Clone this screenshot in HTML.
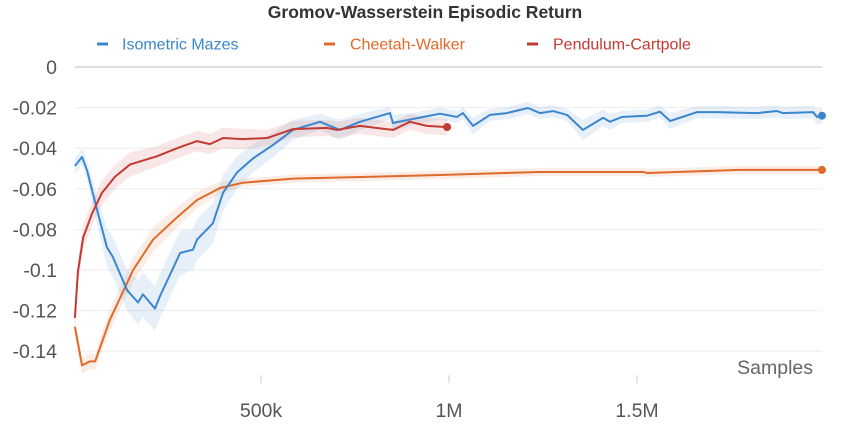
<!DOCTYPE html>
<html><head><meta charset="utf-8"><style>
body{margin:0;background:#fff;}
svg text{font-family:"Liberation Sans",sans-serif;}
</style></head><body>
<svg id="chart" width="850" height="425" xmlns="http://www.w3.org/2000/svg">
<text x="425" y="18" text-anchor="middle" font-size="17.5" font-weight="bold" fill="#333">Gromov-Wasserstein Episodic Return</text>
<g>
<g><line x1="97" y1="44" x2="108" y2="44" stroke="#3b86cc" stroke-width="3"/><text x="122" y="49.5" font-size="16" fill="#3b86cc">Isometric Mazes</text></g>
<g><line x1="324" y1="44" x2="335" y2="44" stroke="#e06a2a" stroke-width="3"/><text x="350" y="49.5" font-size="16" fill="#e06a2a">Cheetah-Walker</text></g>
<g><line x1="527" y1="44" x2="538" y2="44" stroke="#c23a32" stroke-width="3"/><text x="553" y="49.5" font-size="16" fill="#c23a32">Pendulum-Cartpole</text></g>
</g>
<g id="grid"></g><g id="bands"></g><g id="lines"></g><g id="axes"></g>
<text x="813" y="374" text-anchor="end" font-size="19.5" fill="#666">Samples</text>
</svg>
<script>
const yTicks=[0,-0.02,-0.04,-0.06,-0.08,-0.1,-0.12,-0.14];
const yTickLabels=["0","-0.02","-0.04","-0.06","-0.08","-0.1","-0.12","-0.14"];
const xTicks=[500,1000,1500];
const xTickLabels=["500k","1M","1.5M"];
const mazesX=[5,24,37,64,90,106,144,173,186,218,231,285,319,330,372,399,436,479,532,585,657,710,763,843,851,904,976,1021,1037,1064,1109,1154,1210,1242,1277,1314,1356,1410,1428,1460,1527,1561,1588,1660,1713,1819,1872,1888,1968,1979,1992];
const mazesY=[-0.0488,-0.0443,-0.0507,-0.0704,-0.0887,-0.0936,-0.110,-0.116,-0.112,-0.119,-0.113,-0.0916,-0.090,-0.085,-0.077,-0.062,-0.052,-0.045,-0.0384,-0.031,-0.027,-0.031,-0.027,-0.0227,-0.0276,-0.0256,-0.023,-0.0246,-0.0227,-0.029,-0.0236,-0.0227,-0.0202,-0.0227,-0.0217,-0.0236,-0.031,-0.025,-0.027,-0.0246,-0.024,-0.022,-0.0266,-0.0222,-0.0222,-0.0227,-0.0217,-0.0227,-0.0222,-0.0246,-0.024];
const mazesSpread=[0.004,0.004,0.005,0.007,0.009,0.01,0.01,0.011,0.011,0.011,0.011,0.011,0.01,0.01,0.01,0.009,0.008,0.007,0.006,0.005,0.004,0.005,0.004,0.003,0.004,0.003,0.003,0.003,0.003,0.004,0.003,0.003,0.003,0.003,0.003,0.003,0.005,0.004,0.004,0.003,0.003,0.003,0.004,0.003,0.003,0.003,0.003,0.003,0.003,0.004,0.004];
const cheetahX=[5,24,45,59,98,160,213,277,330,391,452,585,809,976,1242,1516,1527,1774,1992];
const cheetahY=[-0.128,-0.147,-0.145,-0.145,-0.1246,-0.100,-0.085,-0.074,-0.0655,-0.0596,-0.057,-0.055,-0.054,-0.0532,-0.0517,-0.0517,-0.0522,-0.0507,-0.0507];
const cheetahSpread=[0.004,0.004,0.004,0.004,0.005,0.006,0.006,0.005,0.004,0.003,0.002,0.002,0.002,0.002,0.002,0.002,0.002,0.002,0.002];
const pendX=[5,13,27,51,77,112,152,223,277,330,364,399,452,516,585,676,702,763,851,896,941,995];
const pendY=[-0.1236,-0.101,-0.084,-0.072,-0.062,-0.054,-0.048,-0.044,-0.040,-0.0365,-0.038,-0.035,-0.0355,-0.035,-0.0306,-0.030,-0.031,-0.029,-0.031,-0.027,-0.029,-0.0296];
const pendSpread=[0.004,0.006,0.006,0.006,0.006,0.006,0.006,0.005,0.005,0.005,0.005,0.005,0.005,0.004,0.004,0.004,0.004,0.004,0.004,0.004,0.004,0.004];
const NS="http://www.w3.org/2000/svg";
const X0=73,XS=0.376,Y0=67,YS=2030;
function sx(v){return X0+v*XS;}
function sy(v){return Y0-v*YS;}
function mk(tag,attrs,parent){const e=document.createElementNS(NS,tag);for(const k in attrs)e.setAttribute(k,attrs[k]);parent.appendChild(e);return e;}
const grid=document.getElementById('grid'),axes=document.getElementById('axes'),bands=document.getElementById('bands'),lines=document.getElementById('lines');
yTicks.forEach((t,i)=>{
 const l=mk('line',{x1:75,x2:822,y1:sy(t),y2:sy(t),stroke:t===0?'#ddd':'#eee','stroke-width':t===0?2:1},grid);
 
 
 const tx=mk('text',{x:57,y:sy(t)+7,'text-anchor':'end','font-size':19.5,fill:'#555'},axes);
 tx.textContent=yTickLabels[i];
 
 
});
xTicks.forEach((t,i)=>{
 const l=mk('line',{x1:sx(t),x2:sx(t),y1:375,y2:383,stroke:'#ccc'},axes);
 
 
 const tx=mk('text',{x:sx(t),y:417,'text-anchor':'middle','font-size':19.5,fill:'#555'},axes);
 tx.textContent=xTickLabels[i];
 
 
});
function series(xs,ys,sp,color,name){
 let up=xs.map((x,i)=>sx(x)+','+sy(ys[i]+sp[i])),lo=xs.map((x,i)=>sx(x)+','+sy(ys[i]-sp[i])).reverse();
 const b=mk('polygon',{points:up.concat(lo).join(' '),fill:color,'fill-opacity':0.12},bands);
 
 
 const p=mk('polyline',{points:xs.map((x,i)=>sx(x)+','+sy(ys[i])).join(' '),fill:'none',stroke:color,'stroke-width':2,'stroke-linejoin':'round'},lines);
 
 
 const n=xs.length-1;
 const c=mk('circle',{cx:sx(xs[n]),cy:sy(ys[n]),r:4,fill:color},lines);
 
 
}
series(cheetahX,cheetahY,cheetahSpread,'#e06a2a','cheetah-walker');
series(mazesX,mazesY,mazesSpread,'#3b86cc','isometric-mazes');
series(pendX,pendY,pendSpread,'#c23a32','pendulum-cartpole');
</script>
</body></html>
